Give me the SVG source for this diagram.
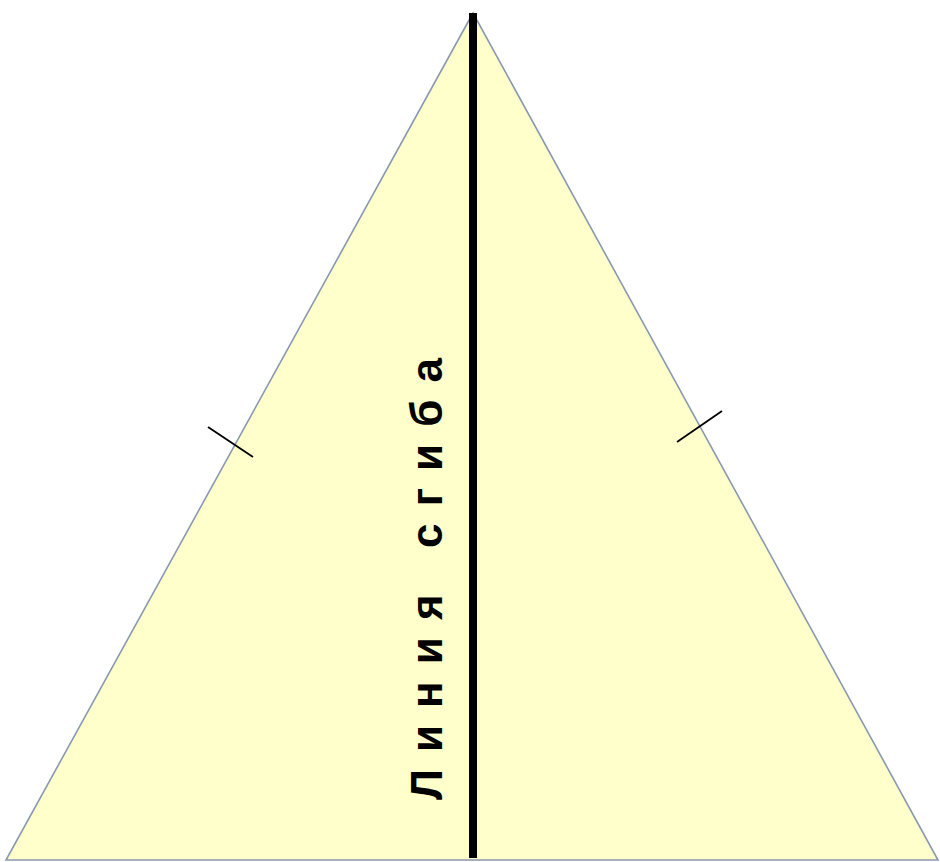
<svg xmlns="http://www.w3.org/2000/svg" width="940" height="862" viewBox="0 0 940 862">
<style>
.tick{stroke:#000;stroke-width:1.8;fill:none}
.lbl{font-family:"Liberation Sans",Arial,sans-serif;font-weight:bold;font-size:44px;fill:#000}
</style>
<rect width="940" height="862" fill="#fff"/>
<g id="triangle">
<polygon points="473,13 6,860 938,860" fill="#FFFFCC" stroke="#8A98B0" stroke-width="1.6"/>
</g>
<g id="connectors">
<line x1="473" y1="13" x2="473" y2="858" stroke="#000" stroke-width="8"/>
<line class="tick" x1="208" y1="427" x2="253" y2="457"/>
<line class="tick" x1="677" y1="442" x2="722" y2="411"/>
</g>
<g id="label">
<text class="lbl" transform="translate(442,800) rotate(-90)" textLength="442" lengthAdjust="spacing">Линия сгиба</text>
</g>
</svg>
